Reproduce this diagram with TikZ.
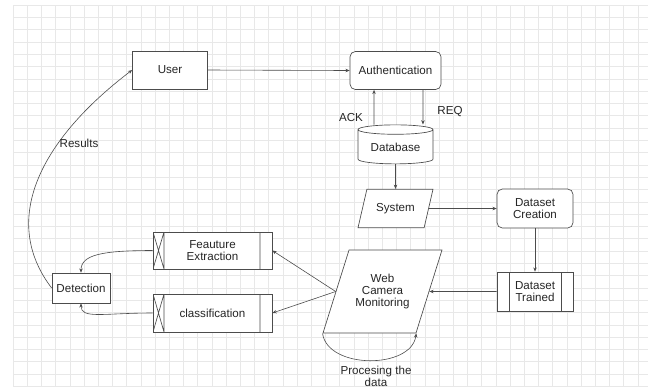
\documentclass[tikz,border=0pt]{standalone}
\usepackage{fontspec}
\setmainfont{Liberation Sans}
\usepackage{tikz}
\usetikzlibrary{positioning, arrows.meta, shapes.geometric}

\tikzset{
  base/.style={draw=black!70, line width=0.5pt, fill=white, text=black!85, align=center, inner sep=1pt,
               font=\fontsize{8.7}{9}\selectfont},
  box/.style={base, rectangle},
  rbox/.style={base, rectangle, rounded corners=4pt},
  store/.style={base, cylinder, shape border rotate=90, aspect=0.18},
  io/.style={base, trapezium, trapezium stretches body},
  predef/.style={box, path picture={
      \draw[black!70] ([xshift=9pt]path picture bounding box.north west) -- ([xshift=9pt]path picture bounding box.south west)
                      ([xshift=-9pt]path picture bounding box.north east) -- ([xshift=-9pt]path picture bounding box.south east);}},
  xproc/.style={box, path picture={
      \draw[black!70] ([xshift=8.25pt]path picture bounding box.north west) -- ([xshift=8.25pt]path picture bounding box.south west)
                      (path picture bounding box.north west) -- ([xshift=8.25pt]path picture bounding box.south west)
                      (path picture bounding box.south west) -- ([xshift=8.25pt]path picture bounding box.north west)
                      ([xshift=-9pt]path picture bounding box.north east) -- ([xshift=-9pt]path picture bounding box.south east);}},
  arr/.style={draw=black!70, line width=0.45pt, -{Stealth[length=3.2pt,width=2.6pt]}},
  lbl/.style={text=black!85, align=center, inner sep=0pt, font=\fontsize{8.7}{9}\selectfont}
}

\begin{document}
\begin{tikzpicture}[x=0.75pt,y=0.75pt,yscale=-1,xscale=1]
\useasboundingbox (0,0) rectangle (648,387);

%Grid
\foreach \k in {0,...,44}
  \draw[black!9, line width=0.4pt] ({13+14.2*\k},5) -- ({13+14.2*\k},387);
\foreach \k in {0,...,31}
  \draw[black!9, line width=0.4pt] (13,{5+12.3*\k}) -- (648,{5+12.3*\k});

%Shape: Rectangle [User]
\node[box, minimum width=56.25pt, minimum height=28.5pt] (user) at (170,70) {User};
%Shape: Rounded Rect [Authentication]
\node[rbox, minimum width=68.25pt, minimum height=28.5pt] (auth) at (395.5,70.5) {Authentication};
%Shape: Can [Database]
\node[store, minimum width=56.25pt, minimum height=29.25pt] (db) at (395.5,147.5) {Database};
%Shape: Parallelogram [System]
\node[io, trapezium left angle=77, trapezium right angle=103, inner ysep=10.5pt, minimum width=56.25pt] (sys) at (395.5,208.5) {System};
%Shape: Rounded Rect [Dataset Creation]
\node[rbox, minimum width=57pt, minimum height=29.25pt] (dsc) at (535,208.5) {Dataset\\Creation};
%Shape: Predefined process [Dataset Trained]
\node[predef, minimum width=57pt, minimum height=29.25pt] (dst) at (535,291.5) {Dataset\\Trained};
%Shape: Parallelogram [Web Camera]
\node[io, trapezium left angle=72.6, trapezium right angle=107.4, inner ysep=18.1pt, minimum width=89.25pt] (wc) at (382.5,291.5) {Web\\Camera\\Monitoring};
%Shape: Process [Feature Extraction]
\node[xproc, minimum width=89.25pt, minimum height=27.75pt] (fe) at (212.5,250.5) {Feauture\\Extraction};
%Shape: Process [classification]
\node[xproc, minimum width=89.25pt, minimum height=28.5pt] (cl) at (212.5,313) {classification};
%Shape: Rectangle [Detection]
\node[box, minimum width=43.5pt, minimum height=22.5pt] (det) at (81,288) {Detection};

%Straight Lines
\draw[arr] (user.east) -- (auth.west);
\draw[arr] ([xshift=-16.1pt]db.north) -- ([xshift=-16.1pt]auth.south);
\draw[arr] ([xshift=20.6pt]auth.south) -- ([xshift=20.6pt]db.north);
\draw[arr] (db.south) -- (sys.north);
\draw[arr] (sys.east) -- (dsc.west);
\draw[arr] (dsc.south) -- (dst.north);
\draw[arr] (dst.west) -- (wc.east);
\draw[arr] (wc.west) -- (fe.east);
\draw[arr] (wc.west) -- (cl.east);

%Curve Lines
\draw[arr] (fe.west) .. controls +(-50,0) and +(0,-18) .. (det.north);
\draw[arr] (cl.west) .. controls +(-50,0) and +(0,16) .. (det.south);
\draw[arr] (det.west) .. controls +(-52,-68) and +(-92,70) .. (user.west);
\draw[arr] (wc.bottom left corner) .. controls +(5,36) and +(-5,36) .. (wc.bottom right corner);

% Text Node
\node[lbl] (ack) at (351,117) {ACK};
% Text Node
\node[lbl] (req) at (450,112) {REQ};
% Text Node
\node[lbl] (res) at (79,143) {Results};
% Text Node
\node[lbl, anchor=north] (proc) at (376,365.5) {Procesing the\\data};

\end{tikzpicture}
\end{document}
